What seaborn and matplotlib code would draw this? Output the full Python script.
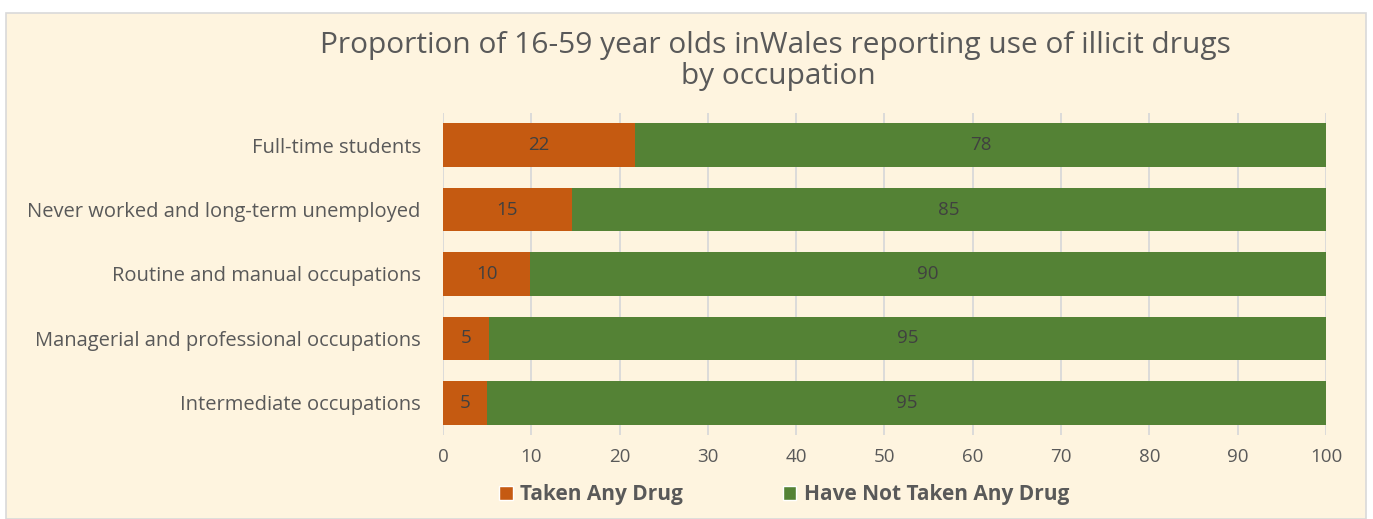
import pandas as pd
import matplotlib.pyplot as plt
import seaborn as sns
from matplotlib.patches import Rectangle, Patch

# Data
occupations = [
    "Full-time students",
    "Never worked and long-term unemployed",
    "Routine and manual occupations",
    "Managerial and professional occupations",
    "Intermediate occupations",
]
taken_any = [21.8, 14.6, 9.9, 5.2, 5.0]
not_taken = [78.2, 85.4, 90.1, 94.8, 95.0]
x_ticks = [0, 10, 20, 30, 40, 50, 60, 70, 80, 90, 100]

df = pd.DataFrame({"occupation": occupations, "taken": taken_any, "not_taken": not_taken})
df["total"] = df["taken"] + df["not_taken"]

orange = "#C55A11"
green = "#548235"
cream = "#FEF4DF"
grey_text = "#595959"

sns.set_theme(style="white")
plt.rcParams["font.family"] = ["Open Sans", "DejaVu Sans"]

fig = plt.figure(figsize=(13.73, 5.19), dpi=100)
fig.patch.set_facecolor("white")
# chart area background with thin border
fig.patches.append(Rectangle((6 / 1373, 0), 1360 / 1373, 506 / 519, transform=fig.transFigure,
                             facecolor=cream, edgecolor="#D9D9D9", linewidth=1.2, zorder=-5))

ax = fig.add_axes([443 / 1373, 1 - 435 / 519, 883 / 1373, 322 / 519])
ax.set_facecolor("none")
ax.set_zorder(2)

# stacked horizontal bars: totals in green, then orange on top
sns.barplot(data=df, y="occupation", x="total", color=green, orient="h",
            width=0.68, saturation=1, linewidth=0, ax=ax, zorder=2)
sns.barplot(data=df, y="occupation", x="taken", color=orange, orient="h",
            width=0.68, saturation=1, linewidth=0, ax=ax, zorder=3)

for i, row in df.iterrows():
    ax.text(row["taken"] / 2, i, f"{row['taken']:.0f}", ha="center", va="center",
            fontsize=13.5, color="#404040", zorder=4)
    ax.text(row["taken"] + row["not_taken"] / 2, i, f"{row['not_taken']:.0f}",
            ha="center", va="center", fontsize=13.5, color="#404040", zorder=4)

ax.set_xlim(0, 100)
ax.set_ylim(4.5, -0.5)
ax.set_xticks(x_ticks)
ax.grid(axis="x", color="#D9D9D9", linewidth=1.3, zorder=0)
ax.set_axisbelow(True)
for s in ax.spines.values():
    s.set_visible(False)
ax.set_xlabel("")
ax.set_ylabel("")
ax.tick_params(axis="both", length=0, labelsize=13.5, labelcolor=grey_text)
ax.tick_params(axis="x", pad=9)
ax.tick_params(axis="y", labelsize=14.5, pad=16)

fig.text(0.565, 0.912, "Proportion of 16-59 year olds inWales reporting use of illicit drugs",
         ha="center", va="center", fontsize=21.5, color=grey_text)
fig.text(0.567, 0.853, "by occupation", ha="center", va="center", fontsize=21.5, color=grey_text)

handles = [Patch(facecolor=orange, label="Taken Any Drug"),
           Patch(facecolor=green, label="Have Not Taken Any Drug")]
leg = fig.legend(handles=handles, loc="center", bbox_to_anchor=(0.571, 0.047), ncol=2,
                 frameon=False, handlelength=0.65, handleheight=0.65, handletextpad=0.35,
                 columnspacing=4.8, prop={"size": 15, "weight": "bold"})
for t in leg.get_texts():
    t.set_color(grey_text)

fig.savefig("out.png", dpi=100)
